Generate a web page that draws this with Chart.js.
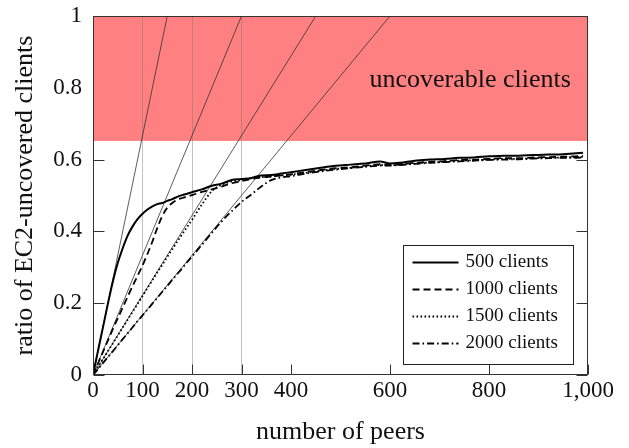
<!DOCTYPE html>
<html>
<head>
<meta charset="utf-8">
<script src="https://cdn.jsdelivr.net/npm/chart.js@4/dist/chart.umd.min.js"></script>
<style>
  html, body { margin: 0; padding: 0; background: #fff; }
  canvas { display: block; }
</style>
</head>
<body>
<canvas id="chart" width="629" height="448"></canvas>
<script>
// Number of peers at which each measurement was taken
const peers = [0, 10, 20, 30, 40, 50, 60, 70, 80, 90, 100, 110, 120, 130, 140, 150, 160, 170, 180, 190,
  200, 220, 240, 260, 280, 300, 320, 340, 360, 380, 400, 430, 460, 490, 520, 550, 580, 600, 620, 650,
  680, 710, 740, 770, 800, 830, 860, 890, 920, 950, 970, 990];

// Ratio of EC2-uncovered clients, one array per client population
const clients500 = [0, 0.067, 0.132, 0.198, 0.26, 0.312, 0.353, 0.388, 0.414, 0.434, 0.449, 0.461, 0.47,
  0.476, 0.479, 0.485, 0.49, 0.496, 0.501, 0.505, 0.509, 0.517, 0.527, 0.533, 0.543, 0.546, 0.549, 0.556,
  0.557, 0.561, 0.565, 0.571, 0.577, 0.583, 0.586, 0.589, 0.595, 0.589, 0.591, 0.597, 0.6, 0.602, 0.605,
  0.606, 0.609, 0.611, 0.611, 0.613, 0.614, 0.615, 0.617, 0.619];
const clients1000 = [0, 0.032, 0.064, 0.096, 0.128, 0.158, 0.188, 0.218, 0.248, 0.276, 0.305, 0.337, 0.372,
  0.41, 0.443, 0.466, 0.479, 0.488, 0.493, 0.497, 0.501, 0.51, 0.517, 0.525, 0.534, 0.54, 0.546, 0.55,
  0.553, 0.556, 0.559, 0.565, 0.571, 0.576, 0.579, 0.583, 0.587, 0.585, 0.587, 0.591, 0.594, 0.596, 0.599,
  0.6, 0.602, 0.604, 0.604, 0.606, 0.607, 0.608, 0.609, 0.61];
const clients1500 = [0, 0.022, 0.044, 0.066, 0.088, 0.11, 0.132, 0.154, 0.176, 0.198, 0.22, 0.242, 0.264,
  0.286, 0.307, 0.329, 0.35, 0.371, 0.392, 0.412, 0.432, 0.475, 0.512, 0.53, 0.539, 0.543, 0.548, 0.551,
  0.553, 0.556, 0.558, 0.563, 0.569, 0.574, 0.577, 0.581, 0.585, 0.584, 0.586, 0.589, 0.592, 0.594, 0.597,
  0.598, 0.6, 0.602, 0.602, 0.604, 0.605, 0.606, 0.607, 0.608];
const clients2000 = [0, 0.016, 0.033, 0.05, 0.066, 0.083, 0.1, 0.116, 0.133, 0.15, 0.166, 0.182, 0.199,
  0.215, 0.232, 0.248, 0.265, 0.281, 0.297, 0.314, 0.33, 0.363, 0.396, 0.428, 0.456, 0.482, 0.503, 0.525,
  0.543, 0.55, 0.554, 0.561, 0.567, 0.572, 0.576, 0.58, 0.583, 0.583, 0.585, 0.588, 0.591, 0.593, 0.595,
  0.597, 0.599, 0.6, 0.601, 0.603, 0.604, 0.605, 0.605, 0.606];

const seriesLabels = ['500 clients', '1000 clients', '1500 clients', '2000 clients'];

// Peer counts at which each linear coverage bound reaches a ratio of 1
const boundPeers = [150, 300, 450, 600];

// Ratio above which clients cannot be covered
const uncoverableFrom = 0.652;
const bandLabel = 'uncoverable clients';

const xTickValues = [0, 100, 200, 300, 400, 600, 800, 1000];
const xTickLabels = ['0', '100', '200', '300', '400', '600', '800', '1,000'];
const yTickValues = [0, 0.2, 0.4, 0.6, 0.8, 1];
const yTickLabels = ['0', '0.2', '0.4', '0.6', '0.8', '1'];
const gridPeers = [100, 200, 300];

const SERIF = "'Liberation Serif', 'DejaVu Serif', serif";
const series = [clients500, clients1000, clients1500, clients2000];
const dashes = [[], [7, 4], [1.6, 2.4], [7, 3, 1.6, 3]];

const datasets = series.map((vals, i) => ({
  label: seriesLabels[i],
  data: peers.map((p, k) => ({ x: p, y: vals[k] })),
  borderColor: '#000',
  borderWidth: i === 0 ? 2 : 1.8,
  borderDash: dashes[i],
  pointRadius: 0,
  cubicInterpolationMode: 'monotone',
  fill: false
}));

boundPeers.forEach(p => {
  datasets.push({
    label: 'bound',
    data: [{ x: 0, y: 0 }, { x: p, y: 1 }],
    borderColor: '#333',
    borderWidth: 0.8,
    pointRadius: 0,
    fill: false
  });
});

// Shaded region of uncoverable clients, painted beneath grid and lines
const bandPlugin = {
  id: 'uncoverableBand',
  beforeDraw(chart) {
    const { ctx, chartArea: a, scales: { y } } = chart;
    const top = y.getPixelForValue(1);
    const bot = y.getPixelForValue(uncoverableFrom);
    ctx.save();
    ctx.fillStyle = '#ff8080';
    ctx.fillRect(a.left, top, a.right - a.left, bot - top);
    ctx.restore();
  },
  afterDatasetsDraw(chart) {
    const { ctx, scales: { x, y } } = chart;
    ctx.save();
    ctx.font = '26px ' + SERIF;
    ctx.fillStyle = '#111';
    ctx.textAlign = 'center';
    ctx.textBaseline = 'alphabetic';
    ctx.fillText(bandLabel, x.getPixelForValue(762), y.getPixelForValue(0.802));
    ctx.restore();
  }
};

// Axis frame, inward tick marks and the legend box
const framePlugin = {
  id: 'frame',
  afterDraw(chart) {
    const { ctx, chartArea: a, scales: { x, y } } = chart;
    const L = Math.round(a.left) + 0.5, R = Math.round(a.right) - 0.5;
    const T = Math.round(a.top) + 0.5, B = Math.round(a.bottom) - 0.5;
    ctx.save();
    ctx.strokeStyle = '#333';
    ctx.lineWidth = 1;
    ctx.beginPath();
    xTickValues.forEach(v => {
      const px = Math.round(x.getPixelForValue(v)) + 0.5;
      ctx.moveTo(px, B); ctx.lineTo(px, B - 10);
    });
    yTickValues.forEach(v => {
      const py = Math.round(y.getPixelForValue(v)) + 0.5;
      if (v < uncoverableFrom) {
        ctx.moveTo(L, py); ctx.lineTo(L + 11, py);
        ctx.moveTo(R, py); ctx.lineTo(R - 11, py);
      }
    });
    ctx.stroke();
    ctx.strokeRect(L, T, R - L, B - T);

    // legend
    const w = 170, h = 119;
    const bx = Math.round(a.right - 15 - w) + 0.5;
    const by = Math.round(a.bottom - 11 - h) + 0.5;
    ctx.fillStyle = '#fff';
    ctx.fillRect(bx, by, w, h);
    ctx.strokeStyle = '#222';
    ctx.strokeRect(bx, by, w, h);
    ctx.font = '19px ' + SERIF;
    ctx.textAlign = 'left';
    ctx.textBaseline = 'middle';
    seriesLabels.forEach((lab, i) => {
      const ds = chart.data.datasets[i];
      const ry = by + 17 + i * 27;
      ctx.strokeStyle = '#000';
      ctx.lineWidth = ds.borderWidth;
      ctx.setLineDash(ds.borderDash);
      ctx.beginPath();
      ctx.moveTo(bx + 9, ry); ctx.lineTo(bx + 55, ry);
      ctx.stroke();
      ctx.setLineDash([]);
      ctx.fillStyle = '#111';
      ctx.fillText(lab, bx + 62, ry);
    });
    ctx.restore();
  }
};

new Chart(document.getElementById('chart'), {
  type: 'line',
  data: { datasets },
  plugins: [bandPlugin, framePlugin],
  options: {
    responsive: false,
    animation: false,
    devicePixelRatio: 1,
    layout: { padding: { top: 16, right: 41, left: 0, bottom: 0 } },
    plugins: { legend: { display: false }, tooltip: { enabled: false } },
    scales: {
      x: {
        type: 'linear',
        min: 0,
        max: 1000,
        afterFit(s) { s.height = 73; s.paddingRight = 0; s.paddingLeft = 0; },
        afterBuildTicks(s) { s.ticks = xTickValues.map(v => ({ value: v })); },
        border: { display: false },
        grid: {
          drawTicks: false,
          lineWidth: 1,
          color: c => (c.tick && gridPeers.includes(c.tick.value)) ? 'rgba(120,120,120,0.45)' : 'rgba(0,0,0,0)'
        },
        ticks: {
          padding: 2,
          maxRotation: 0,
          autoSkip: false,
          color: '#111',
          font: { family: SERIF, size: 23 },
          callback: (v, i) => xTickLabels[i]
        },
        title: {
          display: true,
          text: 'number of peers',
          color: '#111',
          font: { family: SERIF, size: 26 },
          padding: { top: 0, bottom: 0 }
        }
      },
      y: {
        type: 'linear',
        min: 0,
        max: 1,
        afterFit(s) { s.width = 93; s.paddingTop = 0; s.paddingBottom = 0; },
        afterBuildTicks(s) { s.ticks = yTickValues.map(v => ({ value: v })); },
        border: { display: false },
        grid: { display: false, drawTicks: false },
        ticks: {
          padding: 11,
          autoSkip: false,
          color: '#111',
          font: { family: SERIF, size: 23 },
          callback: (v, i) => yTickLabels[i]
        },
        title: {
          display: true,
          text: 'ratio of EC2-uncovered clients',
          color: '#111',
          font: { family: SERIF, size: 26 },
          padding: { top: 10, bottom: 0 }
        }
      }
    }
  }
});
</script>
</body>
</html>
